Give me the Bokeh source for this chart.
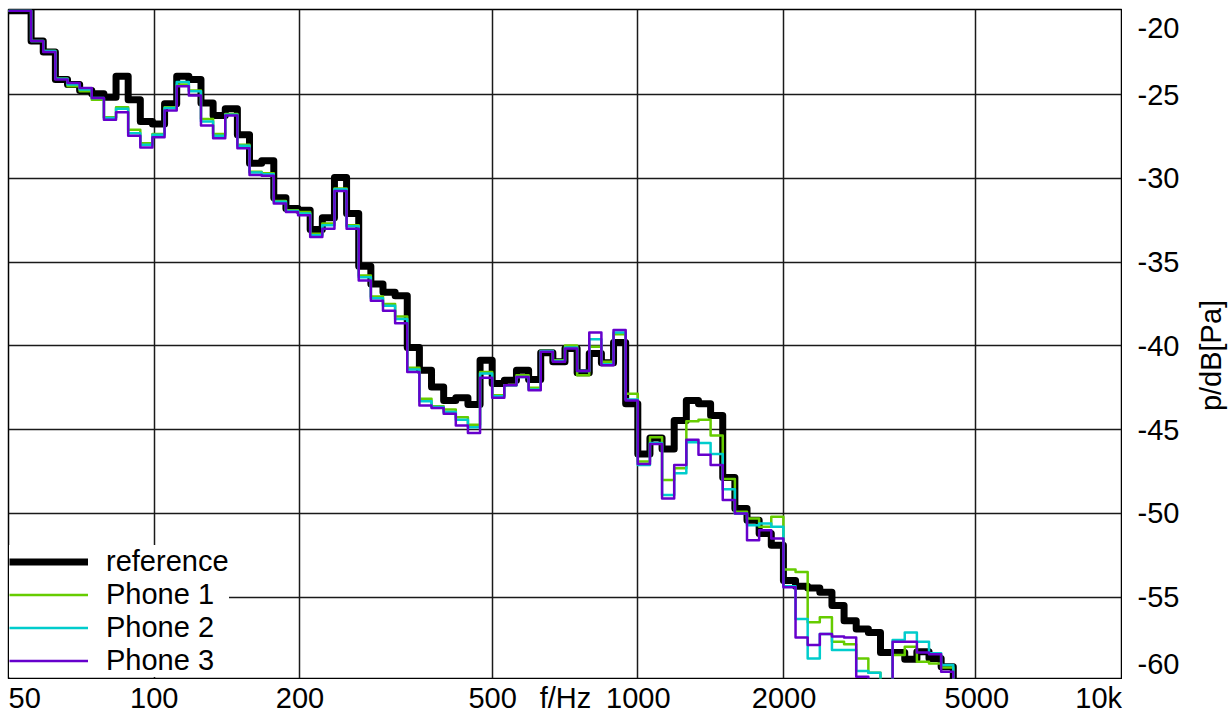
import math
from bokeh.plotting import figure
from bokeh.layouts import column, row
from bokeh.models import FixedTicker, Range1d, Legend, LegendItem
from bokeh.core.properties import value
from bokeh.embed import file_html
from bokeh.resources import INLINE

# 1/12-octave band numbers (band n spans 1000*2^(n/12) .. 1000*2^((n+1)/12) Hz)
band_numbers = list(range(-52, 26))

reference = [-20.0, -20.0,
             -21.8, -22.45, -24.1, -24.4, -24.75, -24.95, -25.15, -23.9, -25.3, -26.6,
             -26.75, -25.55, -23.9, -24.1, -25.5, -26.25, -25.85, -27.4, -29.1, -28.95,
             -31.15, -31.8, -31.9, -33.05, -32.35, -29.95, -32.1, -35.25, -36.3, -36.8,
             -37.0, -40.1, -41.45, -42.45, -43.25, -43.1, -43.5, -40.85, -42.25, -42.05,
             -41.45, -42.0, -40.4, -40.95, -40.15, -41.6, -40.45, -41.0, -39.8, -43.45,
             -46.45, -45.5, -46.15, -44.45, -43.25, -43.45, -44.15, -47.85, -49.7, -50.4,
             -51.2, -51.9, -54.0, -54.35, -54.45, -54.7, -55.5, -56.4, -56.9, -57.1,
             -58.3, -58.3, -58.7, -58.25, -58.65, -59.15]
phone1 = [-20.0, -20.0,
          -21.8, -22.4, -24.05, -24.5, -24.8, -25.3, -26.35, -25.75, -27.1, -27.9,
          -27.35, -25.75, -24.4, -24.75, -26.45, -27.35, -26.15, -28.0, -29.6, -29.7,
          -31.35, -31.9, -32.0, -33.3, -32.7, -30.6, -32.8, -35.8, -37.05, -37.5,
          -38.25, -41.3, -43.15, -43.6, -43.8, -44.25, -44.7, -41.55, -42.95, -42.35,
          -41.75, -42.5, -40.3, -40.85, -39.98, -41.75, -40.05, -40.95, -39.3, -42.85,
          -46.9, -45.45, -48.0, -47.3, -44.5, -44.4, -45.35, -47.95, -49.9, -50.3,
          -50.8, -50.2, -53.35, -53.5, -56.5, -56.2, -57.65, -57.8, -58.65, -59.5,
          -62.0, -58.45, -57.95, -58.85, -58.95, -59.2]
phone2 = [-20.0, -20.0,
          -21.8, -22.4, -24.05, -24.4, -24.7, -25.2, -26.4, -25.85, -27.3, -28.0,
          -27.4, -25.8, -24.25, -24.8, -26.6, -27.45, -26.2, -28.05, -29.65, -29.75,
          -31.4, -31.95, -32.1, -33.4, -32.8, -30.65, -32.85, -35.9, -37.15, -37.6,
          -38.4, -41.4, -43.3, -43.65, -43.95, -44.4, -44.85, -41.65, -43.0, -42.35,
          -41.85, -42.6, -40.3, -40.9, -40.1, -41.5, -39.6, -41.1, -39.2, -43.2,
          -47.1, -45.8, -48.9, -47.6, -45.75, -45.8, -46.45, -48.55, -50.0, -50.7,
          -50.6, -50.8, -54.35, -56.3, -58.65, -57.2, -58.15, -58.15, -59.4, -59.5,
          -62.0, -57.55, -57.1, -57.65, -58.35, -59.05]
phone3 = [-20.0, -20.0,
          -21.8, -22.45, -24.1, -24.3, -24.6, -25.2, -26.5, -26.05, -27.45, -28.15,
          -27.55, -25.95, -24.5, -25.05, -26.85, -27.6, -26.25, -28.2, -29.8, -29.85,
          -31.5, -32.0, -32.2, -33.5, -33.0, -30.75, -33.0, -36.1, -37.3, -37.9,
          -38.65, -41.55, -43.55, -43.7, -44.05, -44.75, -45.2, -41.9, -43.1, -42.35,
          -41.85, -42.65, -40.35, -40.95, -40.15, -41.5, -39.2, -41.15, -39.05, -43.25,
          -47.05, -45.85, -49.1, -47.1, -45.6, -46.5, -47.1, -49.2, -50.0, -51.6,
          -51.0, -51.5, -54.4, -57.4, -57.85, -57.2, -57.35, -57.4, -59.75, -62.0,
          -62.0, -57.65, -57.65, -58.3, -58.4, -59.45]

series_names = ["reference", "Phone 1", "Phone 2", "Phone 3"]
series_values = [reference, phone1, phone2, phone3]
series_colors = ["#000000", "#66CC00", "#00CCCC", "#6600CC"]
series_widths = [7, 2.5, 2.5, 2.5]

x_grid = [100, 200, 500, 1000, 2000, 5000]
y_grid = [-25, -30, -35, -40, -45, -50, -55]
x_tick_pos = [54, 100, 200, 500, 707, 1000, 2000, 5000, 8930]
x_tick_text = ["50", "100", "200", "500", "f/Hz", "1000", "2000", "5000", "10k"]
y_tick_pos = [-21, -25, -30, -35, -40, -45, -50, -55, -59]
y_tick_text = ["-20", "-25", "-30", "-35", "-40", "-45", "-50", "-55", "-60"]
y_title = "p/dB[Pa]"
y_title_pos = -40.57

FONT = "Liberation Sans"
FS = "29px"

xr = Range1d(50, 10000)
yr = Range1d(-59.85, -19.92)

common = dict(output_backend="svg", toolbar_location=None)

# ---------- main plot ----------
p = figure(width=1122, height=679, x_axis_type="log", x_range=xr, y_range=yr,
           min_border_left=8, min_border_top=9, min_border_bottom=1, min_border_right=1,
           **common)
p.xaxis.visible = False
p.yaxis.visible = False
p.outline_line_color = "#000000"
p.outline_line_width = 1.5
p.background_fill_color = "white"
p.border_fill_color = "white"
p.xgrid.ticker = FixedTicker(ticks=x_grid)
p.ygrid.ticker = FixedTicker(ticks=y_grid)
for g in (p.xgrid[0], p.ygrid[0]):
    g.grid_line_color = "#1a1a1a"
    g.grid_line_width = 1.5

items = []
for name, vals, col, w in zip(series_names, series_values, series_colors, series_widths):
    xs, ys = [], []
    for n, v in zip(band_numbers, vals):
        xs += [1000 * 2 ** (n / 12), 1000 * 2 ** ((n + 1) / 12)]
        ys += [v, v]
    xs.append(xs[-1])
    ys.append(-80)
    r = p.line(xs, ys, line_color=col, line_width=w, line_join="round")
    items.append(LegendItem(label=name, renderers=[r]))

legend = Legend(items=items, location="bottom_left",
                label_text_font=FONT, label_text_font_size=FS,
                label_text_color="#000000",
                glyph_width=79, glyph_height=33, label_height=33,
                spacing=0, padding=3, margin=1, label_standoff=18,
                border_line_color=None, background_fill_color="white",
                background_fill_alpha=1.0)
p.add_layout(legend)

# ---------- right strip: y tick labels and title ----------
rs = figure(width=106, height=679, x_range=Range1d(0, 106), y_range=yr,
            min_border_left=0, min_border_top=9, min_border_bottom=1, min_border_right=0,
            **common)
rs.axis.visible = False
rs.grid.visible = False
rs.outline_line_color = None
rs.text(x=15, y=y_tick_pos, text=y_tick_text, text_font=value(FONT),
        text_font_size=FS, text_color="#000000", text_align="left",
        text_baseline="middle")
rs.text(x=[88], y=[y_title_pos], text=[y_title], angle=math.pi / 2,
        text_font=value(FONT), text_font_size=FS, text_color="#000000",
        text_align="center", text_baseline="middle")

# ---------- bottom strip: x tick labels ----------
bs = figure(width=1228, height=35, x_axis_type="log", x_range=xr, y_range=Range1d(0, 35),
            min_border_left=8, min_border_top=0, min_border_bottom=0, min_border_right=106,
            **common)
bs.axis.visible = False
bs.grid.visible = False
bs.outline_line_color = None
bs.text(x=x_tick_pos, y=17, text=x_tick_text, text_font=value(FONT),
        text_font_size=FS, text_color="#000000", text_align="center",
        text_baseline="middle")

layout = column(row(p, rs, spacing=0), bs, spacing=0)

open("out.html", "w").write(file_html(layout, INLINE))
